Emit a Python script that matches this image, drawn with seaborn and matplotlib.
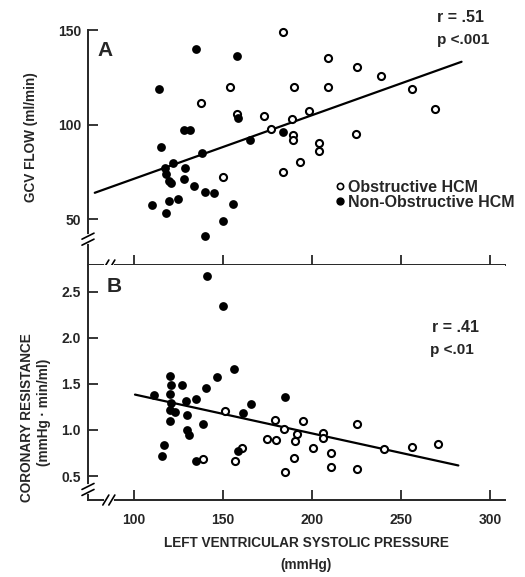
import numpy as np
import pandas as pd
import seaborn as sns
import matplotlib.pyplot as plt
from matplotlib.lines import Line2D

# data
# panel A: GCV flow (ml/min) vs LV systolic pressure (mmHg)
a_obs_x = [183.5, 154, 190, 137.5, 158, 173, 189, 198.5, 177, 189.5, 189.5, 193, 184, 150,
           209, 225.5, 239, 209, 256, 269, 224.5, 204, 204]
a_obs_y = [149, 120, 120, 111.5, 105.5, 104.5, 103, 107, 97.5, 94.5, 92, 80, 75, 72,
           135, 130.5, 125.5, 120, 119, 108, 95, 90, 86]
a_non_x = [135, 158, 114, 158.6, 128.3, 131.3, 115, 138, 165, 184, 122, 117.5, 118, 119.5, 121,
           128.5, 128, 134, 140, 145, 125, 119.5, 110, 118, 155.5, 150, 140]
a_non_y = [140, 136, 119, 103.5, 97, 97, 88, 85, 92, 96, 79.5, 77, 74, 70, 69,
           77, 71, 67.5, 64.5, 64, 60.5, 59.5, 57.5, 53, 58, 49, 41]
a_fit_x = [78, 284]
a_fit_y = [63.9, 133.2]

# panel B: coronary resistance (mmHg.min/ml)
b_obs_x = [151, 156.5, 179, 184.5, 191.5, 195, 175, 180, 190.5, 190, 185, 139, 160.5,
           206, 206, 225.5, 200.5, 210.5, 210.5, 225.5, 240.5, 256, 270.5]
b_obs_y = [1.205, 0.66, 1.105, 1.01, 0.96, 1.10, 0.905, 0.895, 0.88, 0.70, 0.54, 0.69, 0.80,
           0.97, 0.91, 1.07, 0.80, 0.755, 0.595, 0.58, 0.795, 0.815, 0.845]
b_non_x = [141, 150, 156, 146.5, 120, 121, 120, 127, 140.5, 111, 135, 129, 121, 120.5, 123,
           166, 161, 130, 120, 139, 130, 131, 185, 117, 115.5, 135, 158.5]
b_non_y = [2.67, 2.34, 1.665, 1.57, 1.59, 1.49, 1.395, 1.49, 1.455, 1.375, 1.34, 1.31, 1.29, 1.215, 1.2,
           1.28, 1.18, 1.165, 1.095, 1.065, 0.995, 0.945, 1.355, 0.84, 0.715, 0.66, 0.775]
b_fit_x = [100.6, 282.2]
b_fit_y = [1.384, 0.615]

x_ticks = [100, 150, 200, 250, 300]
a_ticks = [50, 100, 150]
b_ticks = [0.5, 1.0, 1.5, 2.0, 2.5]

sns.set_style("ticks")
plt.rcParams['font.family'] = ['Liberation Sans', 'DejaVu Sans']
plt.rcParams['font.weight'] = 'bold'

fig = plt.figure(figsize=(5.25, 5.77), dpi=100)
ax_a = fig.add_axes([0.1676, 0.5407, 0.7943, 0.4073])
ax_b = fig.add_axes([0.1676, 0.1334, 0.7943, 0.4073])

open_kw = dict(color='white', edgecolor='black', linewidth=1.5, s=26, clip_on=False, zorder=3)
fill_kw = dict(color='black', edgecolor='black', linewidth=0, s=40, clip_on=False, zorder=3)

for ax, ox, oy, nx, ny, fx, fy in [
        (ax_a, a_obs_x, a_obs_y, a_non_x, a_non_y, a_fit_x, a_fit_y),
        (ax_b, b_obs_x, b_obs_y, b_non_x, b_non_y, b_fit_x, b_fit_y)]:
    sns.lineplot(x=fx, y=fy, ax=ax, color='black', linewidth=1.6, zorder=2)
    sns.scatterplot(x=ox, y=oy, ax=ax, **open_kw)
    sns.scatterplot(x=nx, y=ny, ax=ax, **fill_kw)
    ax.set_xlim(74.2, 308.4)
    ax.set_xticks(x_ticks)
    ax.tick_params(direction='in', length=7, width=1.3, labelsize=10)
    for s in ax.spines.values():
        s.set_linewidth(1.4)
    ax.spines['right'].set_visible(False)
    ax.set_xlabel('')
    ax.set_ylabel('')

ax_a.set_ylim(25.7, 150)
ax_a.set_yticks(a_ticks)
ax_a.spines['top'].set_visible(False)
ax_a.tick_params(axis='x', labelbottom=False)
ax_a.tick_params(axis='y', pad=5)

ax_b.set_ylim(0.24, 2.79)
ax_b.set_yticks(b_ticks)
ax_b.set_yticklabels(['0.5', '1.0', '1.5', '2.0', '2.5'])
ax_b.spines['top'].set_visible(False)
ax_b.tick_params(axis='x', pad=9)
ax_b.tick_params(axis='y', pad=5)


def brk(ax, xf, yf, vertical):
    # axis break: white gap plus two slanted strokes
    w, h = 417.0, 235.0
    if vertical:
        ax.plot([xf, xf], [yf - 3 / h, yf + 3 / h], color='white', lw=3,
                transform=ax.transAxes, clip_on=False, zorder=5)
        for d in (-3, 3):
            ax.plot([xf - 6 / w, xf + 6 / w], [yf + d / h - 3 / h, yf + d / h + 3 / h],
                    color='black', lw=1.2, transform=ax.transAxes, clip_on=False, zorder=6)
    else:
        ax.plot([xf - 3 / w, xf + 3 / w], [yf, yf], color='white', lw=3,
                transform=ax.transAxes, clip_on=False, zorder=5)
        for d in (-3, 3):
            ax.plot([xf + d / w - 3 / w, xf + d / w + 3 / w], [yf - 5 / h, yf + 5 / h],
                    color='black', lw=1.2, transform=ax.transAxes, clip_on=False, zorder=6)


brk(ax_a, 0, 0.11, True)
brk(ax_a, 0.05, 0, False)
brk(ax_b, 0, 0.045, True)
brk(ax_b, 0.05, 0, False)

# panel letters and statistics
fig.text(97 / 525, 1 - 50 / 577, 'A', fontsize=15, fontweight='bold', va='center')
fig.text(107 / 525, 1 - 286 / 577, 'B', fontsize=15, fontweight='bold', va='center')
fig.text(437 / 525, 1 - 17 / 577, 'r = .51', fontsize=11.5, va='center')
fig.text(437 / 525, 1 - 40 / 577, 'p <.001', fontsize=11, va='center')
fig.text(432 / 525, 1 - 328 / 577, 'r = .41', fontsize=11.5, va='center')
fig.text(430 / 525, 1 - 350 / 577, 'p <.01', fontsize=11, va='center')

# axis titles
fig.text(306 / 525, 1 - 543 / 577, 'LEFT VENTRICULAR SYSTOLIC PRESSURE', fontsize=9.8,
         ha='center', va='center')
fig.text(306 / 525, 1 - 565 / 577, '(mmHg)', fontsize=9.8, ha='center', va='center')
fig.text(31 / 525, 1 - 137 / 577, 'GCV FLOW (ml/min)', fontsize=9.8, rotation=90,
         ha='center', va='center')
fig.text(27 / 525, 1 - 418 / 577, 'CORONARY RESISTANCE', fontsize=9.8, rotation=90,
         ha='center', va='center')
fig.text(44 / 525, 1 - 412 / 577, '(mmHg \u00b7 min/ml)', fontsize=9.8, rotation=90,
         ha='center', va='center')

handles = [Line2D([], [], marker='o', ls='', mfc='white', mec='black', mew=1.2, ms=4.5,
                  label='Obstructive HCM'),
           Line2D([], [], marker='o', ls='', mfc='black', mec='black', ms=5,
                  label='Non-Obstructive HCM')]
ax_a.legend(handles=handles, loc='upper left', bbox_to_anchor=(245 / 417, 1 - 150 / 235),
            frameon=False, fontsize=11.5, handletextpad=0.05, handlelength=0.9,
            labelspacing=0.0, borderpad=0, borderaxespad=0)

fig.savefig('out.png', dpi=100)
